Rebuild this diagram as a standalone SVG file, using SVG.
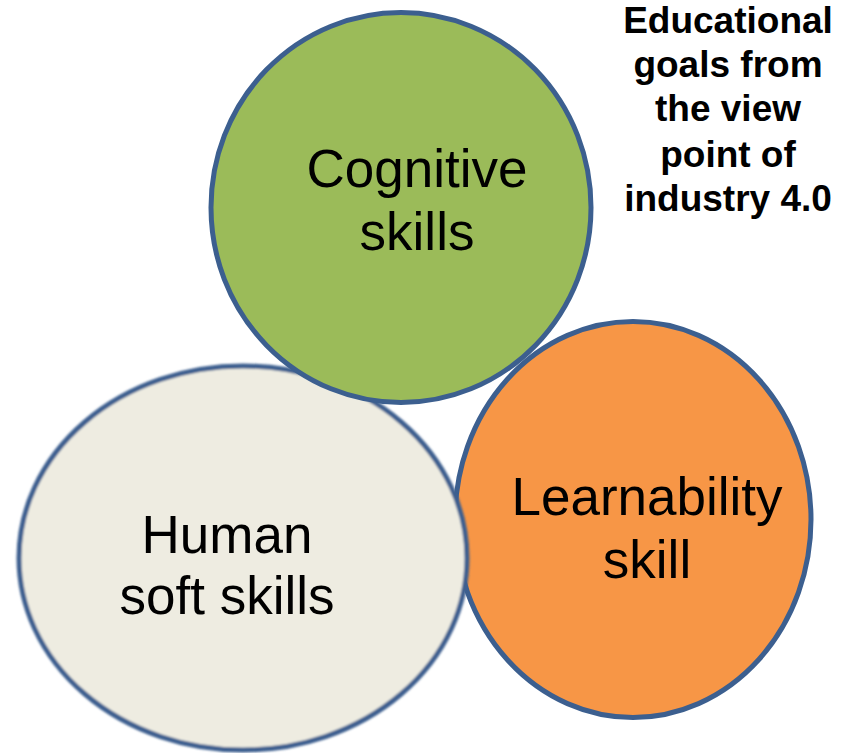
<svg xmlns="http://www.w3.org/2000/svg" width="850" height="753" viewBox="0 0 850 753">
<defs>
<style>
.node{stroke:#3C5F8F;stroke-width:5}
.lbl{font-family:"Liberation Sans",Arial,sans-serif;font-size:53px;fill:#000;text-anchor:middle}
.ttl{font-family:"Liberation Sans",Arial,sans-serif;font-size:37px;font-weight:bold;fill:#000;text-anchor:middle}
</style>
<filter id="soft" x="-5%" y="-5%" width="110%" height="110%"><feGaussianBlur stdDeviation="1"/></filter>
</defs>
<rect width="850" height="753" fill="#fff"/>
<g id="learnability">
<ellipse class="node" cx="633" cy="519.5" rx="178" ry="198" fill="#F79646"/>
<text class="lbl" x="647" y="515">Learnability</text>
<text class="lbl" x="647" y="578">skill</text>
</g>
<g id="human">
<ellipse class="node" cx="243" cy="558" rx="224" ry="192" fill="#EEECE1" filter="url(#soft)"/>
<text class="lbl" x="227" y="553">Human</text>
<text class="lbl" x="227" y="614">soft skills</text>
</g>
<g id="cognitive">
<ellipse class="node" cx="401" cy="207.5" rx="190" ry="195" fill="#9BBB59"/>
<text class="lbl" x="417" y="187">Cognitive</text>
<text class="lbl" x="417" y="250">skills</text>
</g>
<g id="title">
<text class="ttl" x="728" y="33">Educational</text>
<text class="ttl" x="728" y="77">goals from</text>
<text class="ttl" x="728" y="121">the view</text>
<text class="ttl" x="728" y="167">point of</text>
<text class="ttl" x="728" y="211">industry 4.0</text>
</g>
<g id="connectors"/>
</svg>
